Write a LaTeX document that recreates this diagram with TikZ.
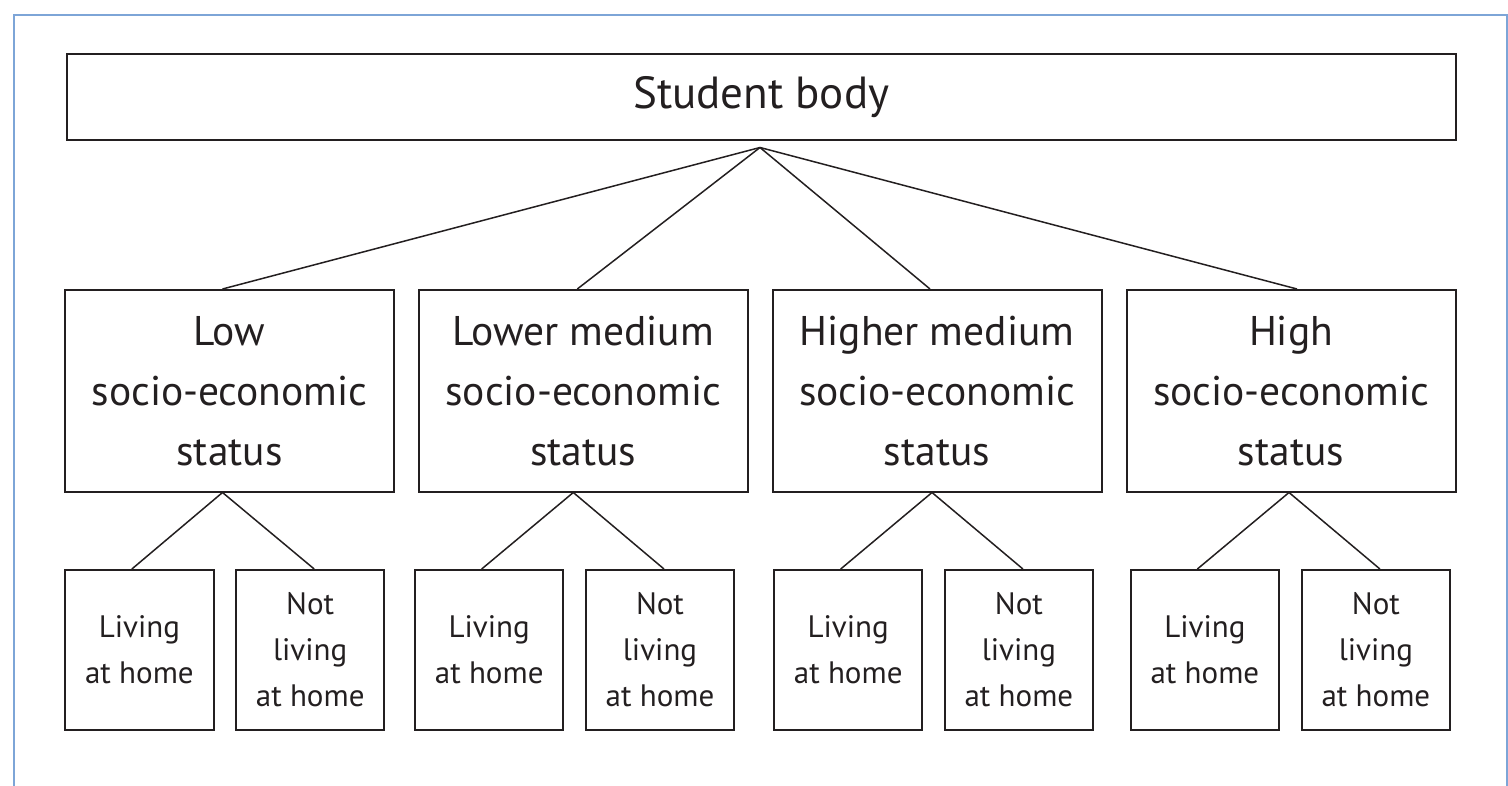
\documentclass[tikz,border=0pt]{standalone}
\usepackage{fontspec}
\setmainfont{PT Sans}
\definecolor{ink}{RGB}{35,31,32}
\definecolor{frameblue}{RGB}{125,165,215}
\begin{document}
\begin{tikzpicture}[x=1pt,y=-1pt,
  box/.style={draw=ink, line width=2pt, text=ink, inner sep=0pt, align=center},
  topbox/.style={box, minimum width=1389.5pt, minimum height=86pt, font=\fontsize{45}{50}\selectfont},
  midbox/.style={box, minimum width=329pt, minimum height=201.5pt, font=\fontsize{41.5}{60}\selectfont},
  leafbox/.style={box, minimum width=148.5pt, minimum height=160pt, font=\fontsize{31}{46}\selectfont},
  link/.style={draw=ink, line width=1.5pt},
  frameline/.style={draw=frameblue, line width=2pt}
]
\useasboundingbox (0,0) rectangle (1508,786);
\draw[frameline] (13.5,786) -- (13.5,15) -- (1506.5,15) -- (1506.5,786);

\node[topbox] (top) at (761.25,97) {Student body};
\coordinate (apex) at ([xshift=-1.25pt,yshift=-6.5pt]top.south);

\node[midbox] (low) at (229.5,390.75) {Low\\socio-economic\\status};
\node[midbox] (lm) at (583.3,390.75) {Lower medium\\socio-economic\\status};
\node[midbox] (hm) at (937,390.75) {Higher medium\\socio-economic\\status};
\node[midbox] (high) at (1291,390.75) {High\\socio-economic\\status};

\node[leafbox] (lowL) at (139.4,650) {Living\\at home};
\node[leafbox] (lowN) at (310.2,650) {Not\\living\\at home};
\node[leafbox] (lmL) at (489.2,650) {Living\\at home};
\node[leafbox] (lmN) at (660,650) {Not\\living\\at home};
\node[leafbox] (hmL) at (848.2,650) {Living\\at home};
\node[leafbox] (hmN) at (1018.9,650) {Not\\living\\at home};
\node[leafbox] (highL) at (1204.9,650) {Living\\at home};
\node[leafbox] (highN) at (1375.9,650) {Not\\living\\at home};

\draw[link] (apex) -- ([xshift=-7pt]low.north);
\draw[link] (apex) -- ([xshift=-6pt]lm.north);
\draw[link] (apex) -- ([xshift=-7pt]hm.north);
\draw[link] (apex) -- ([xshift=6pt]high.north);

\draw[link] ([xshift=-7pt]low.south) -- ([xshift=-7.5pt]lowL.north);
\draw[link] ([xshift=-7pt]low.south) -- ([xshift=4pt]lowN.north);
\draw[link] ([xshift=-10pt]lm.south) -- ([xshift=-7.5pt]lmL.north);
\draw[link] ([xshift=-10pt]lm.south) -- ([xshift=4pt]lmN.north);
\draw[link] ([xshift=-5pt]hm.south) -- ([xshift=-7.5pt]hmL.north);
\draw[link] ([xshift=-5pt]hm.south) -- ([xshift=4pt]hmN.north);
\draw[link] ([xshift=-2pt]high.south) -- ([xshift=-7.5pt]highL.north);
\draw[link] ([xshift=-2pt]high.south) -- ([xshift=4pt]highN.north);
\end{tikzpicture}
\end{document}
